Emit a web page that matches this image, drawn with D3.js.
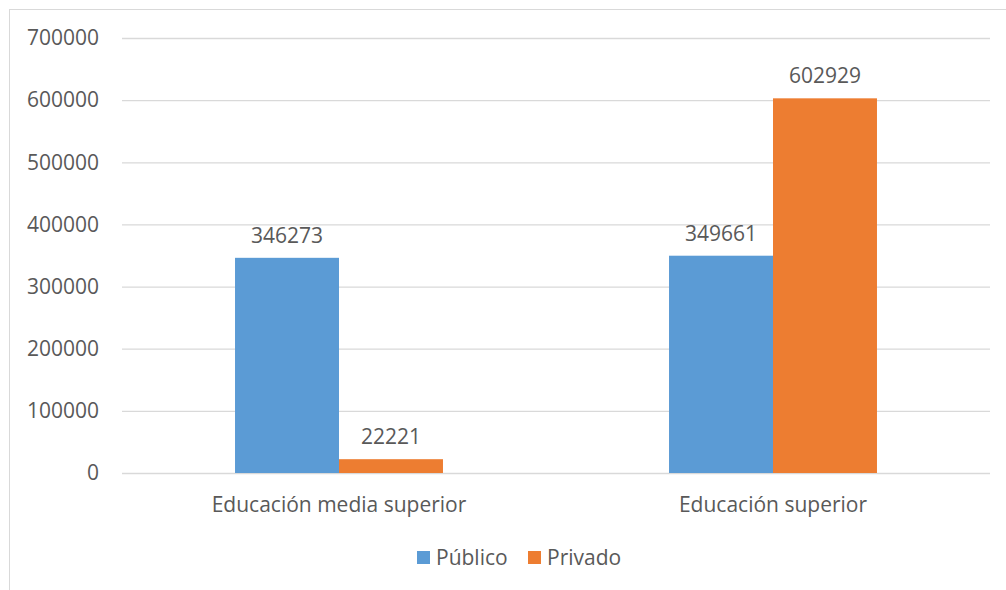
<!DOCTYPE html>
<html>
<head>
<meta charset="utf-8">
<script src="https://cdn.jsdelivr.net/npm/d3@7"></script>
<style>
  body { margin: 0; background: #fff; }
  text { font-family: "Open Sans", sans-serif; fill: #595959; }
</style>
</head>
<body>
<svg width="1006" height="590"></svg>
<script>
// data
var categories = ["Educación media superior", "Educación superior"];
var seriesNames = ["Público", "Privado"];
var publico = [346273, 349661];
var privado = [22221, 602929];
var yTicks = [0, 100000, 200000, 300000, 400000, 500000, 600000, 700000];
var colors = ["#5B9BD5", "#ED7D31"];

var svg = d3.select("svg"),
    width = +svg.attr("width"),
    height = +svg.attr("height");

var plot = {left: 122, right: 990, top: 38, bottom: 473};
var fs = "21px";

// chart border
svg.append("rect")
  .attr("x", 9.5).attr("y", 9.5)
  .attr("width", width + 20).attr("height", height + 20)
  .attr("fill", "none")
  .attr("stroke", "#D9D9D9");

var x0 = d3.scaleBand()
  .domain(categories)
  .range([plot.left, plot.right])
  .paddingInner(0).paddingOuter(0);

var x1 = d3.scaleBand()
  .domain(seriesNames)
  .range([0, x0.bandwidth()])
  .paddingInner(0).paddingOuter(1.087);

var y = d3.scaleLinear()
  .domain([0, 700000])
  .range([plot.bottom, plot.top]);

// gridlines + y labels
var gY = svg.append("g")
  .attr("transform", "translate(" + plot.left + ",0)")
  .call(d3.axisLeft(y).tickValues(yTicks).tickSize(-(plot.right - plot.left)).tickPadding(23).tickFormat(d3.format("d")));
gY.select(".domain").remove();
gY.selectAll("line").attr("stroke", "#D9D9D9").attr("stroke-width", 1.3);
gY.selectAll("text").style("font-size", fs).attr("fill", "#595959").style("font-family", "Open Sans, sans-serif");

// bars
var rows = categories.map(function(c, i) {
  return {cat: c, vals: [publico[i], privado[i]]};
});

var groups = svg.append("g").selectAll("g")
  .data(rows).enter().append("g")
  .attr("transform", function(d) { return "translate(" + x0(d.cat) + ",0)"; });

groups.selectAll("rect")
  .data(function(d) { return d.vals.map(function(v, j) { return {name: seriesNames[j], v: v, j: j}; }); })
  .enter().append("rect")
  .attr("x", function(d) { return x1(d.name); })
  .attr("y", function(d) { return y(d.v); })
  .attr("width", x1.bandwidth())
  .attr("height", function(d) { return y(0) - y(d.v); })
  .attr("fill", function(d) { return colors[d.j]; });

groups.selectAll("text.val")
  .data(function(d) { return d.vals.map(function(v, j) { return {name: seriesNames[j], v: v}; }); })
  .enter().append("text")
  .attr("class", "val")
  .attr("x", function(d) { return x1(d.name) + x1.bandwidth() / 2; })
  .attr("y", function(d) { return y(d.v) - 15; })
  .attr("text-anchor", "middle")
  .style("font-size", fs)
  .text(function(d) { return d.v; });

// category labels
svg.append("g").selectAll("text")
  .data(categories).enter().append("text")
  .attr("x", function(d) { return x0(d) + x0.bandwidth() / 2; })
  .attr("y", 512)
  .attr("text-anchor", "middle")
  .style("font-size", fs)
  .text(function(d) { return d; });

// legend
var legend = svg.append("g");
var legX = [417, 528];
seriesNames.forEach(function(s, i) {
  legend.append("rect")
    .attr("x", legX[i]).attr("y", 551)
    .attr("width", 13).attr("height", 13)
    .attr("fill", colors[i]);
  legend.append("text")
    .attr("x", legX[i] + 19).attr("y", 564.5)
    .style("font-size", fs)
    .text(s);
});
</script>
</body>
</html>
